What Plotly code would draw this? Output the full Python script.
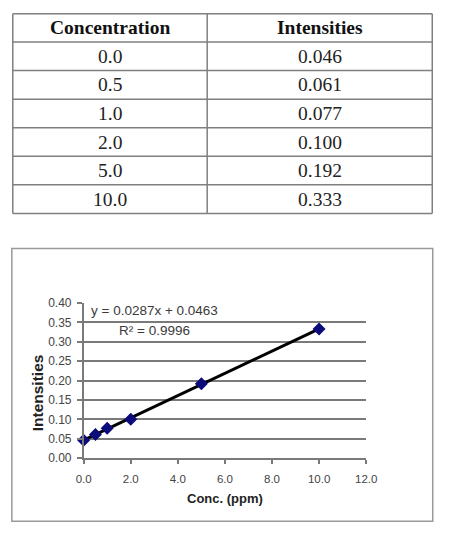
import plotly.graph_objects as go

# ---- data ----
concentration = [0.0, 0.5, 1.0, 2.0, 5.0, 10.0]
intensities = [0.046, 0.061, 0.077, 0.100, 0.192, 0.333]
conc_labels = ["0.0", "0.5", "1.0", "2.0", "5.0", "10.0"]
int_labels = ["0.046", "0.061", "0.077", "0.100", "0.192", "0.333"]
header_labels = ["Concentration", "Intensities"]
slope = 0.0287
intercept = 0.0463
r_squared = 0.9996
trend_x = [0.0, 10.0]
trend_y = [slope * x + intercept for x in trend_x]

W, H = 449, 533

def px_x(p):
    return p / W

def px_y(p):
    return 1 - p / H

SERIF = "Liberation Serif, Times New Roman, serif"
SANS = "Liberation Sans, Arial, sans-serif"
GRID = "#7a7a7a"

fig = go.Figure()

# ---- chart traces ----
fig.add_trace(go.Scatter(
    x=trend_x, y=trend_y, mode="lines",
    line=dict(color="black", width=3),
    showlegend=False, hoverinfo="skip", cliponaxis=False,
))
fig.add_trace(go.Scatter(
    x=concentration, y=intensities, mode="markers",
    marker=dict(symbol="diamond", size=10, color="#0b0b7a"),
    showlegend=False, cliponaxis=False,
))

# ---- table (drawn with shapes + annotations) ----
tbl_left, tbl_right, tbl_mid = 5, 443, 208
tbl_top, header_h, row_h = 7, 29, 29.33
n_rows = len(conc_labels)
tbl_bottom = tbl_top + header_h + n_rows * row_h
col_centers = [(tbl_left + tbl_mid) / 2, (tbl_mid + tbl_right) / 2]

shapes = []
annotations = []
line_style = dict(color="#7f7f7f", width=1.5)
ys = [tbl_top, tbl_top + header_h] + [tbl_top + header_h + (i + 1) * row_h for i in range(n_rows)]
for yy in ys:
    shapes.append(dict(type="line", xref="paper", yref="paper",
                       x0=px_x(tbl_left), x1=px_x(tbl_right), y0=px_y(yy), y1=px_y(yy),
                       line=line_style))
for xx in [tbl_left, tbl_mid, tbl_right]:
    shapes.append(dict(type="line", xref="paper", yref="paper",
                       x0=px_x(xx), x1=px_x(xx), y0=px_y(tbl_top), y1=px_y(tbl_bottom),
                       line=line_style))
for c, h in enumerate(header_labels):
    annotations.append(dict(text=f"<b>{h}</b>", xref="paper", yref="paper",
                            x=px_x(col_centers[c]), y=px_y(tbl_top + header_h / 2),
                            xanchor="center", yanchor="middle", showarrow=False,
                            font=dict(family=SERIF, size=19.5, color="#111111")))
for r in range(n_rows):
    yc = tbl_top + header_h + (r + 0.5) * row_h
    for c, col in enumerate([conc_labels, int_labels]):
        annotations.append(dict(text=col[r], xref="paper", yref="paper",
                                x=px_x(col_centers[c]), y=px_y(yc),
                                xanchor="center", yanchor="middle", showarrow=False,
                                font=dict(family=SERIF, size=19.5, color="#222222")))

# chart border
shapes.append(dict(type="rect", xref="paper", yref="paper",
                   x0=px_x(4), x1=px_x(443.5), y0=px_y(528), y1=px_y(248),
                   line=dict(color="#9a9a9a", width=1.5)))

annotations += [
    dict(text=f"y = {slope}x + {intercept}", xref="x", yref="y",
         x=2.99, y=0.380, xanchor="center", yanchor="middle", showarrow=False,
         font=dict(family=SANS, size=13.5, color="#3a3a3a")),
    dict(text=f"R² = {r_squared}", xref="x", yref="y",
         x=2.99, y=0.330, xanchor="center", yanchor="middle", showarrow=False,
         font=dict(family=SANS, size=13.5, color="#3a3a3a")),
    dict(text="<b>Conc. (ppm)</b>", xref="paper", yref="paper",
         x=px_x(227), y=px_y(505), xanchor="center", yanchor="middle", showarrow=False,
         font=dict(family=SANS, size=13, color="#222222")),
    dict(text="<b>Intensities</b>", xref="paper", yref="paper",
         x=px_x(31), y=px_y(396), xanchor="center", yanchor="middle",
         showarrow=False, textangle=-90,
         font=dict(family=SANS, size=15.5, color="#222222")),
]

fig.update_layout(
    width=W, height=H,
    margin=dict(l=0, r=0, t=0, b=0),
    paper_bgcolor="white",
    plot_bgcolor="white",
    showlegend=False,
    xaxis=dict(
        domain=[px_x(79), px_x(374)],
        range=[0, 12], dtick=2, tick0=0, tickformat=".1f",
        showgrid=False, zeroline=False,
        showline=True, linecolor=GRID, linewidth=1.5,
        ticks="outside", ticklen=4, tickcolor=GRID, tickwidth=1.5,
        ticklabelstandoff=5,
        tickfont=dict(family=SANS, size=11.5, color="#444444"),
        fixedrange=True,
    ),
    yaxis=dict(
        domain=[px_y(463.3), px_y(304)],
        range=[0, 0.4], dtick=0.05, tick0=0, tickformat=".2f",
        showgrid=True, gridcolor=GRID, gridwidth=1.6,
        zeroline=False,
        showline=True, linecolor=GRID, linewidth=1.5,
        ticks="outside", ticklen=5, tickcolor=GRID, tickwidth=1.5,
        ticklabelstandoff=3,
        tickfont=dict(family=SANS, size=12, color="#444444"),
        fixedrange=True,
    ),
    shapes=shapes,
    annotations=annotations,
)

fig.write_html("out.html")
